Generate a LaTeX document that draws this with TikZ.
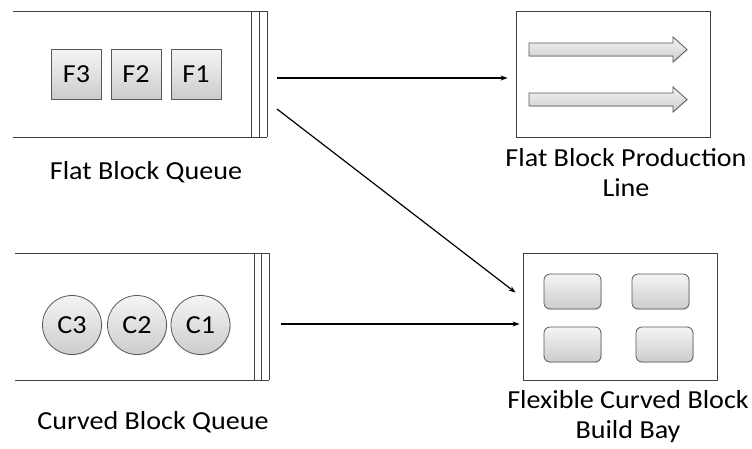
\documentclass[tikz,border=0pt]{standalone}
\usepackage{fontspec}
\setmainfont[FakeStretch=1.08]{Carlito}
\usetikzlibrary{arrows.meta,shadows,calc}
\begin{document}
\begin{tikzpicture}[x=1pt,y=-1pt,
  every node/.style={font=\fontsize{26}{30}\selectfont},
  blk/.style={draw=black!65,line width=0.8pt,top color=gray!8,bottom color=gray!40,
    drop shadow={shadow xshift=0.8pt,shadow yshift=-0.8pt,opacity=0.25}},
  fblock/.style={blk,rectangle,minimum width=50pt,minimum height=50pt,inner sep=0pt},
  cblock/.style={blk,circle,minimum size=59pt,inner sep=0pt},
  rblock/.style={blk,rounded corners=6pt,minimum width=57pt,minimum height=35pt,inner sep=0pt},
  frame/.style={draw=black!75,line width=0.8pt},
  qline/.style={draw=black!75,line width=0.8pt},
  conn/.style={draw=black,line width=1.2pt,-{Stealth[length=7pt,width=5pt]}},
  lbl/.style={align=center,inner sep=0pt}]
\useasboundingbox (0,0) rectangle (752,448);

% flat block queue
\draw[qline] (13,11) -- (267,11) (13,137) -- (267,137);
\draw[qline] (251,11) -- (251,137) (259,11) -- (259,137) (267,11) -- (267,137);
\node[fblock] (f3) at (76.5,74) {F3};
\node[fblock] (f2) at (136,74) {F2};
\node[fblock] (f1) at (196,74) {F1};
\node[lbl] (fq) at (146,172) {Flat Block Queue};
\coordinate (fqa) at (277,78);
\coordinate (fqb) at (277,109);

% curved block queue
\draw[qline] (15,253) -- (269,253) (15,380) -- (269,380);
\draw[qline] (254,253) -- (254,380) (261,253) -- (261,380) (269,253) -- (269,380);
\node[cblock] (c3) at (72,325) {C3};
\node[cblock] (c2) at (137,325) {C2};
\node[cblock] (c1) at (200.5,325) {C1};
\node[lbl] (cq) at (153,422) {Curved Block Queue};
\coordinate (cqa) at (281,324);

% flat block production line
\node[frame,minimum width=194pt,minimum height=126pt,inner sep=0pt] (pl) at (613,74) {};
\foreach \yy in {49.5,99.5}{
  \path[blk] (529,\yy-6.5) -- (673,\yy-6.5) -- (673,\yy-12.5) -- (687,\yy)
     -- (673,\yy+12.5) -- (673,\yy+6.5) -- (529,\yy+6.5) -- cycle;
}
\node[lbl] (pll) at (626,173) {Flat Block Production\\Line};

% flexible curved block build bay
\node[frame,minimum width=194pt,minimum height=127pt,inner sep=0pt] (bb) at (620,316.5) {};
\node[rblock] (b1) at (572.5,291.5) {};
\node[rblock] (b2) at (660.5,291.5) {};
\node[rblock] (b3) at (572.5,344.5) {};
\node[rblock] (b4) at (664.5,344.5) {};
\node[lbl] (bbl) at (628,417) {Flexible Curved Block\\Build Bay};

% arrow end points just short of the target frames
\coordinate (pla) at ($(pl.west |- fqa)+(-8,0)$);
\coordinate (bba) at ($(bb.north west)+(-7,40)$);
\coordinate (bbb) at ($(bb.west |- cqa)+(-3,0)$);

% connectors
\draw[conn] (fqa) -- (pla);
\draw[conn] (fqb) -- (bba);
\draw[conn] (cqa) -- (bbb);
\end{tikzpicture}
\end{document}
